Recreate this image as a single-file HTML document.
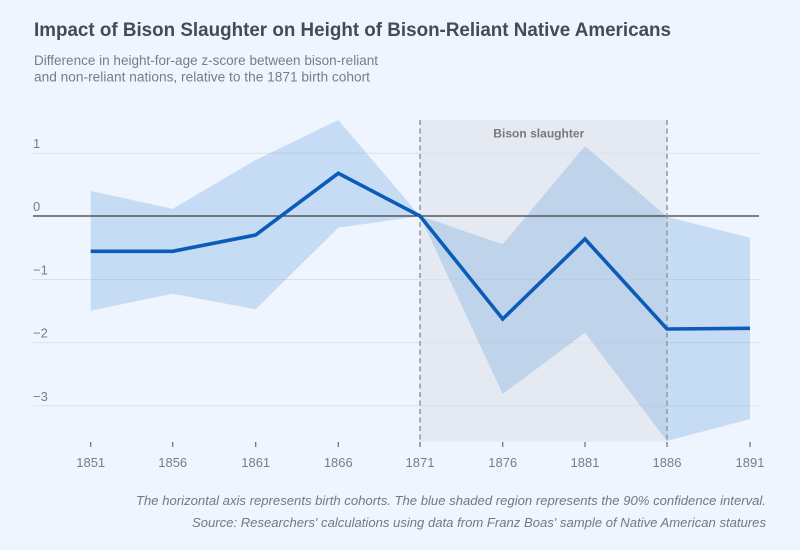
<!DOCTYPE html>
<html>
<head>
<meta charset="utf-8">
<style>
  html, body { margin: 0; padding: 0; background: #eef5ff; }
  svg { display: block; }
  text { font-family: "Liberation Sans", sans-serif; }
</style>
</head>
<body>
<svg width="800" height="550" viewBox="0 0 800 550" xmlns="http://www.w3.org/2000/svg">
  <rect x="0" y="0" width="800" height="550" fill="#eef5ff"/>

  <!-- Title -->
  <text x="34" y="36" font-size="19" font-weight="bold" fill="#474a4f" textLength="637" lengthAdjust="spacingAndGlyphs">Impact of Bison Slaughter on Height of Bison-Reliant Native Americans</text>
  <text x="34" y="65" font-size="13.5" fill="#7a7d82" textLength="344" lengthAdjust="spacingAndGlyphs">Difference in height-for-age z-score between bison-reliant</text>
  <text x="34" y="81.7" font-size="13.5" fill="#7a7d82" textLength="336" lengthAdjust="spacingAndGlyphs">and non-reliant nations, relative to the 1871 birth cohort</text>

  <!-- Shaded band -->
  <rect x="420" y="120" width="247" height="321.7" fill="#e4e9f2"/>
  <text x="538.8" y="137.7" font-size="12" font-weight="bold" fill="#77797d" text-anchor="middle" textLength="91" lengthAdjust="spacingAndGlyphs">Bison slaughter</text>

  <!-- Gridlines -->
  <g stroke="#d9e1ec" stroke-width="1">
    <line x1="33" y1="153.3" x2="759" y2="153.3"/>
    <line x1="33" y1="279.5" x2="759" y2="279.5"/>
    <line x1="33" y1="342.6" x2="759" y2="342.6"/>
    <line x1="33" y1="405.8" x2="759" y2="405.8"/>
  </g>

  <!-- Y labels -->
  <g font-size="13" fill="#7a7d82">
    <text x="33" y="148">1</text>
    <text x="33" y="211">0</text>
    <text x="33" y="274.5">−1</text>
    <text x="33" y="337.5">−2</text>
    <text x="33" y="400.8">−3</text>
  </g>

  <!-- Confidence interval -->
  <polygon fill="rgba(91,155,213,0.27)" points="
    90.7,191 172.7,208.7 255.7,160 338.3,120 420,216 502.7,244.3 585,146 667,216.7 750,237.7
    750,419 667,441 585,332.7 502.7,394 420,216 338.3,227.7 255.7,309.3 172.7,293.7 90.7,310.7"/>

  <!-- Zero line -->
  <line x1="33" y1="216" x2="759" y2="216" stroke="#3a3a3a" stroke-width="1.2"/>

  <!-- Dashed vertical lines -->
  <g stroke="#9a9c9f" stroke-width="1.6" stroke-dasharray="5,3.5">
    <line x1="420" y1="120" x2="420" y2="442"/>
    <line x1="667" y1="120" x2="667" y2="442"/>
  </g>

  <!-- Data line -->
  <polyline fill="none" stroke="#0a5cb8" stroke-width="3.6" stroke-linejoin="miter"
    points="90.7,251.3 172.7,251.3 255.7,235 338.3,173.3 420,216 502.7,319 585,239 667,329 750,328.3"/>

  <!-- X ticks -->
  <g stroke="#6a6c70" stroke-width="1.2">
    <line x1="90.7" y1="442" x2="90.7" y2="447"/>
    <line x1="172.7" y1="442" x2="172.7" y2="447"/>
    <line x1="255.7" y1="442" x2="255.7" y2="447"/>
    <line x1="338.3" y1="442" x2="338.3" y2="447"/>
    <line x1="420" y1="442" x2="420" y2="447"/>
    <line x1="502.7" y1="442" x2="502.7" y2="447"/>
    <line x1="585" y1="442" x2="585" y2="447"/>
    <line x1="667" y1="442" x2="667" y2="447"/>
    <line x1="750" y1="442" x2="750" y2="447"/>
  </g>
  <g font-size="13" fill="#7a7d82" text-anchor="middle">
    <text x="90.7" y="467">1851</text>
    <text x="172.7" y="467">1856</text>
    <text x="255.7" y="467">1861</text>
    <text x="338.3" y="467">1866</text>
    <text x="420" y="467">1871</text>
    <text x="502.7" y="467">1876</text>
    <text x="585" y="467">1881</text>
    <text x="667" y="467">1886</text>
    <text x="750" y="467">1891</text>
  </g>

  <!-- Footer -->
  <g font-size="13" font-style="italic" fill="#75787c" text-anchor="end">
    <text x="766" y="505" textLength="630" lengthAdjust="spacingAndGlyphs">The horizontal axis represents birth cohorts. The blue shaded region represents the 90% confidence interval.</text>
    <text x="766" y="527" textLength="574" lengthAdjust="spacingAndGlyphs">Source: Researchers' calculations using data from Franz Boas' sample of Native American statures</text>
  </g>
</svg>
</body>
</html>
